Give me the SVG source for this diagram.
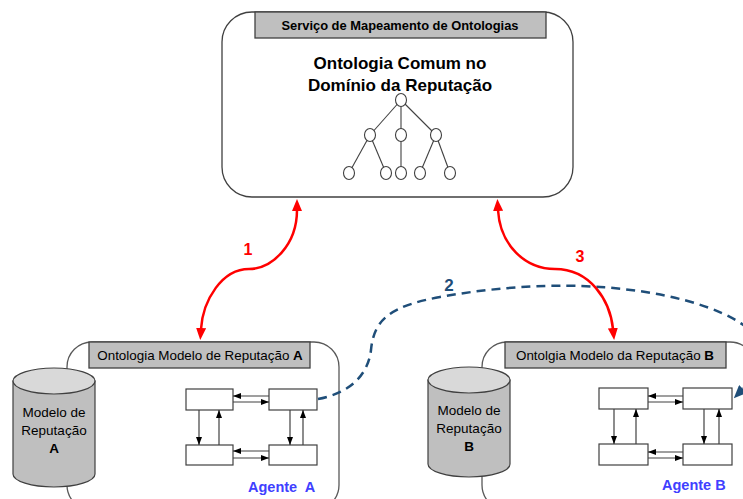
<svg xmlns="http://www.w3.org/2000/svg" width="743" height="499" viewBox="0 0 743 499">
  <style>
    text { font-family: "Liberation Sans", Arial, sans-serif; fill: #000; }
    .frame { fill: #fff; stroke: #595959; stroke-width: 1.3; }
    .bar { fill: #bfbfbf; stroke: #404040; stroke-width: 1.3; }
    .bartxt { font-size: 13.4px; text-anchor: middle; }
    .cyl-body { fill: #bfbfbf; stroke: #404040; stroke-width: 1.2; }
    .cyl-top { fill: #d9d9d9; stroke: #404040; stroke-width: 1.2; }
    .cyltxt { font-size: 13.5px; text-anchor: middle; }
    .box { fill: #fff; stroke: #404040; stroke-width: 1.2; }
    .msg { fill: none; stroke: #404040; stroke-width: 1.2; marker-end: url(#tri); }
    .tree line { stroke: #404040; stroke-width: 1.1; }
    .tree ellipse { fill: #fff; stroke: #404040; stroke-width: 1.1; }
    .agent { font-size: 14.5px; font-weight: bold; fill: #4040ff; white-space: pre; }
    .red { fill: none; stroke: #ff0000; stroke-width: 2.5; marker-start: url(#redhead); marker-end: url(#redhead); }
    .redlbl { font-size: 16px; font-weight: bold; fill: #ff0000; text-anchor: middle; }
    .bluelbl { font-size: 17px; font-weight: bold; fill: #1f4e79; text-anchor: middle; }
  </style>
  <defs>
    <marker id="tri" viewBox="0 0 8 6" refX="8" refY="3" markerWidth="8" markerHeight="6" markerUnits="userSpaceOnUse" orient="auto">
      <path d="M0,0 L8,3 L0,6 z" fill="#000"/>
    </marker>
    <marker id="redhead" viewBox="0 0 12 10" refX="1" refY="5" markerWidth="12" markerHeight="10" markerUnits="userSpaceOnUse" orient="auto-start-reverse">
      <path d="M0,0 L12,5 L0,10 z" fill="#ff0000"/>
    </marker>
    <marker id="bluehead" viewBox="0 0 13 11" refX="0" refY="5.5" markerWidth="13" markerHeight="11" markerUnits="userSpaceOnUse" orient="auto">
      <path d="M0,0 L13,5.5 L0,11 z" fill="#1f4e79"/>
    </marker>
  </defs>

  <!-- Mapping service with the shared reputation ontology -->
  <g id="servico-mapeamento">
    <rect class="frame" x="222" y="12" width="351" height="185" rx="30" ry="30" style="stroke:#404040"/>
    <rect class="bar" x="255" y="12" width="291" height="26"/>
    <text x="400" y="30" font-size="12.9" font-weight="bold" text-anchor="middle">Serviço de Mapeamento de Ontologias</text>
    <text x="400" y="69" font-size="17" font-weight="bold" text-anchor="middle">Ontologia Comum no</text>
    <text x="400" y="91" font-size="17" font-weight="bold" text-anchor="middle">Domínio da Reputação</text>
    <g class="tree">
      <line x1="401" y1="100" x2="370" y2="135"/>
      <line x1="401" y1="100" x2="401" y2="135"/>
      <line x1="401" y1="100" x2="436" y2="135"/>
      <line x1="370" y1="135" x2="349" y2="173"/>
      <line x1="370" y1="135" x2="386" y2="173"/>
      <line x1="401" y1="135" x2="401" y2="173"/>
      <line x1="436" y1="135" x2="420" y2="173"/>
      <line x1="436" y1="135" x2="450" y2="173"/>
      <ellipse cx="401" cy="100" rx="5.5" ry="6.5"/>
      <ellipse cx="370" cy="135" rx="5.5" ry="6.5"/>
      <ellipse cx="401" cy="135" rx="5.5" ry="6.5"/>
      <ellipse cx="436" cy="135" rx="5.5" ry="6.5"/>
      <ellipse cx="349" cy="173" rx="5.5" ry="6.5"/>
      <ellipse cx="386" cy="173" rx="5.5" ry="6.5"/>
      <ellipse cx="401" cy="173" rx="5.5" ry="6.5"/>
      <ellipse cx="420" cy="173" rx="5.5" ry="6.5"/>
      <ellipse cx="450" cy="173" rx="5.5" ry="6.5"/>
    </g>
  </g>

  <!-- Agent A -->
  <g id="agente-a">
    <rect class="frame" x="67" y="342" width="272" height="168" rx="25" ry="25"/>
    <rect class="bar" x="89" y="342" width="221" height="26"/>
    <text class="bartxt" x="200" y="360">Ontologia Modelo de Reputação <tspan font-weight="bold">A</tspan></text>
    <g id="modelo-reputacao-a">
      <path class="cyl-body" d="M13,381 L13,474 A41,13 0 0 0 95,474 L95,381 z"/>
      <ellipse class="cyl-top" cx="54" cy="381" rx="41" ry="13"/>
      <text class="cyltxt" x="54" y="417">Modelo de</text>
      <text class="cyltxt" x="54" y="435">Reputação</text>
      <text class="cyltxt" x="54" y="453" font-weight="bold">A</text>
    </g>
    <g id="componentes-a">
      <rect class="box" x="186" y="389" width="47" height="21"/>
      <rect class="box" x="269" y="389" width="48" height="21"/>
      <rect class="box" x="186" y="445" width="47" height="20"/>
      <rect class="box" x="269" y="445" width="48" height="20"/>
      <path class="msg" d="M269,396 L233,396"/>
      <path class="msg" d="M233,402 L269,402"/>
      <path class="msg" d="M269,451 L233,451"/>
      <path class="msg" d="M233,458 L269,458"/>
      <path class="msg" d="M199,410 L199,445"/>
      <path class="msg" d="M219,445 L219,410"/>
      <path class="msg" d="M290,410 L290,445"/>
      <path class="msg" d="M303,445 L303,410"/>
    </g>
    <text class="agent" x="248" y="492">Agente  A</text>
  </g>

  <!-- Agent B -->
  <g id="agente-b">
    <rect class="frame" x="482" y="342" width="273" height="168" rx="25" ry="25"/>
    <rect class="bar" x="505" y="342" width="221" height="26"/>
    <text class="bartxt" x="615" y="360">Ontolgia Modelo da Reputação <tspan font-weight="bold">B</tspan></text>
    <g id="modelo-reputacao-b">
      <path class="cyl-body" d="M428,380 L428,464 A41,13 0 0 0 510,464 L510,380 z"/>
      <ellipse class="cyl-top" cx="469" cy="380" rx="41" ry="13"/>
      <text class="cyltxt" x="469" y="415">Modelo de</text>
      <text class="cyltxt" x="469" y="433">Reputação</text>
      <text class="cyltxt" x="469" y="451" font-weight="bold">B</text>
    </g>
    <g id="componentes-b">
      <rect class="box" x="599" y="388" width="49" height="21"/>
      <rect class="box" x="683" y="388" width="49" height="21"/>
      <rect class="box" x="599" y="444" width="49" height="21"/>
      <rect class="box" x="683" y="444" width="49" height="21"/>
      <path class="msg" d="M683,396 L648,396"/>
      <path class="msg" d="M648,402 L683,402"/>
      <path class="msg" d="M683,452 L648,452"/>
      <path class="msg" d="M648,458 L683,458"/>
      <path class="msg" d="M614,409 L614,444"/>
      <path class="msg" d="M636,444 L636,409"/>
      <path class="msg" d="M704,409 L704,444"/>
      <path class="msg" d="M719,444 L719,409"/>
    </g>
    <text class="agent" x="662" y="490">Agente B</text>
  </g>

  <!-- Interactions -->
  <g id="conectores">
    <path d="M318,399 C350,393 368,375 371,350 C374,318 392,306 440,297 C500,286 560,284 600,287 C660,291 720,305 750,330 C775,350 760,372 743,389" fill="none" stroke="#1f4e79" stroke-width="2.5" stroke-dasharray="9 6" marker-end="url(#bluehead)"/>
    <path class="red" d="M297,210 C297,245 272,269 249,269 C222,269 203,300 201,329"/>
    <path class="red" d="M498,210 C500,245 525,269 555,269 C590,269 610,300 613,329"/>
    <text class="redlbl" x="248" y="255">1</text>
    <text class="bluelbl" x="449" y="291">2</text>
    <text class="redlbl" x="580" y="262">3</text>
  </g>
</svg>
